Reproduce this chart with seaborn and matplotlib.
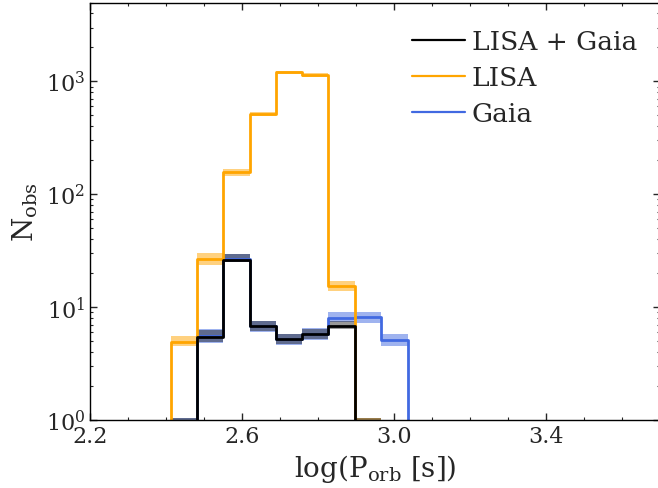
import numpy as np
import pandas as pd
import matplotlib
matplotlib.use("Agg")
import matplotlib.pyplot as plt
from matplotlib.lines import Line2D
from matplotlib.ticker import MultipleLocator, LogLocator, LogFormatterSciNotation, NullFormatter, FormatStrFormatter
import seaborn as sns

# ---- data ----
bin_edges = [2.412, 2.481, 2.550, 2.620, 2.689, 2.758, 2.827, 2.896, 2.966, 3.035]

lisa_gaia      = [0.5, 5.45, 26.0, 6.8, 5.2, 5.8, 6.8, 0.5, 0.0]
lisa_gaia_lo   = [0.2, 4.9, 25.0, 6.1, 4.7, 5.2, 6.4, 0.2, 0.0]
lisa_gaia_hi   = [1.05, 6.3, 29.5, 7.5, 5.8, 6.4, 7.6, 1.04, 0.0]

lisa           = [4.9, 26.8, 158, 519, 1217, 1135, 15.3, 0.5, 0.0]
lisa_lo        = [4.5, 23.7, 145, 490, 1160, 1100, 13.8, 0.2, 0.0]
lisa_hi        = [5.6, 30.2, 167, 540, 1240, 1190, 17.2, 1.04, 0.0]

gaia           = [0.5, 5.5, 26.5, 6.8, 5.2, 5.8, 8.0, 8.15, 5.15]
gaia_lo        = [0.2, 4.8, 25.0, 6.0, 4.65, 5.1, 7.35, 7.3, 4.55]
gaia_hi        = [1.05, 6.35, 29.7, 7.6, 5.8, 6.5, 9.1, 9.1, 5.8]

labels = ["LISA + Gaia", "LISA", "Gaia"]
colors = {"LISA + Gaia": "black", "LISA": "orange", "Gaia": "royalblue"}
band_alpha = {"LISA + Gaia": 0.4, "LISA": 0.5, "Gaia": 0.5}

series = {
    "LISA + Gaia": (lisa_gaia, lisa_gaia_lo, lisa_gaia_hi),
    "LISA": (lisa, lisa_lo, lisa_hi),
    "Gaia": (gaia, gaia_lo, gaia_hi),
}

FLOOR = 1e-2

sns.set_style("ticks")
plt.rcParams["font.family"] = ["DejaVu Serif"]
plt.rcParams["mathtext.fontset"] = "dejavuserif"

fig = plt.figure(figsize=(6.58, 4.89), dpi=100)
ax = fig.add_axes([90 / 658, 68 / 489, 570.5 / 658, 417.5 / 489])
ax.set_yscale("log")
ax.set_xlim(2.2, 3.7)
ax.set_ylim(1, 5000)

edges = np.array(bin_edges)
# draw order: Gaia (bottom), LISA, LISA + Gaia (top)
for name in ["Gaia", "LISA", "LISA + Gaia"]:
    v, lo, hi = [np.clip(np.array(a, dtype=float), FLOOR, None) for a in series[name]]
    ax.fill_between(edges, np.append(lo, lo[-1]), np.append(hi, hi[-1]),
                    step="post", color=colors[name], alpha=band_alpha[name],
                    linewidth=0, zorder=1)
    xs = np.concatenate([[edges[0]], edges, [edges[-1]]])
    ys = np.concatenate([[FLOOR], v, [v[-1]], [FLOOR]])
    df = pd.DataFrame({"x": xs, "y": ys})
    sns.lineplot(data=df, x="x", y="y", ax=ax, sort=False, estimator=None,
                 drawstyle="steps-post", color=colors[name], linewidth=2.0,
                 zorder=2)

ax.xaxis.set_major_locator(MultipleLocator(0.4, offset=0.2))
ax.xaxis.set_minor_locator(MultipleLocator(0.1))
ax.yaxis.set_major_locator(LogLocator(base=10, numticks=10))
ax.yaxis.set_minor_locator(LogLocator(base=10, subs=np.arange(2, 10), numticks=10))
ax.yaxis.set_major_formatter(LogFormatterSciNotation())
ax.yaxis.set_minor_formatter(NullFormatter())
ax.xaxis.set_major_formatter(FormatStrFormatter("%.1f"))

ax.tick_params(which="both", direction="in", top=True, right=True, labelsize=16)
ax.tick_params(which="major", length=5, width=1)
ax.tick_params(which="minor", length=2.5, width=0.8)
for s in ax.spines.values():
    s.set_linewidth(1.0)
    s.set_color("black")

ax.set_xlabel(r"log(P$_\mathrm{orb}$ [s])", fontsize=20)
ax.set_ylabel(r"N$_\mathrm{obs}$", fontsize=20)

handles = [Line2D([0], [0], color=colors[n], lw=1.6) for n in labels]
ax.legend(handles, labels, loc="upper right", frameon=False, fontsize=19,
          handlelength=2.0, handletextpad=0.25, labelspacing=0.42,
          borderaxespad=0.6, bbox_to_anchor=(1.005, 1.0))

fig.savefig("out.png", dpi=100)
